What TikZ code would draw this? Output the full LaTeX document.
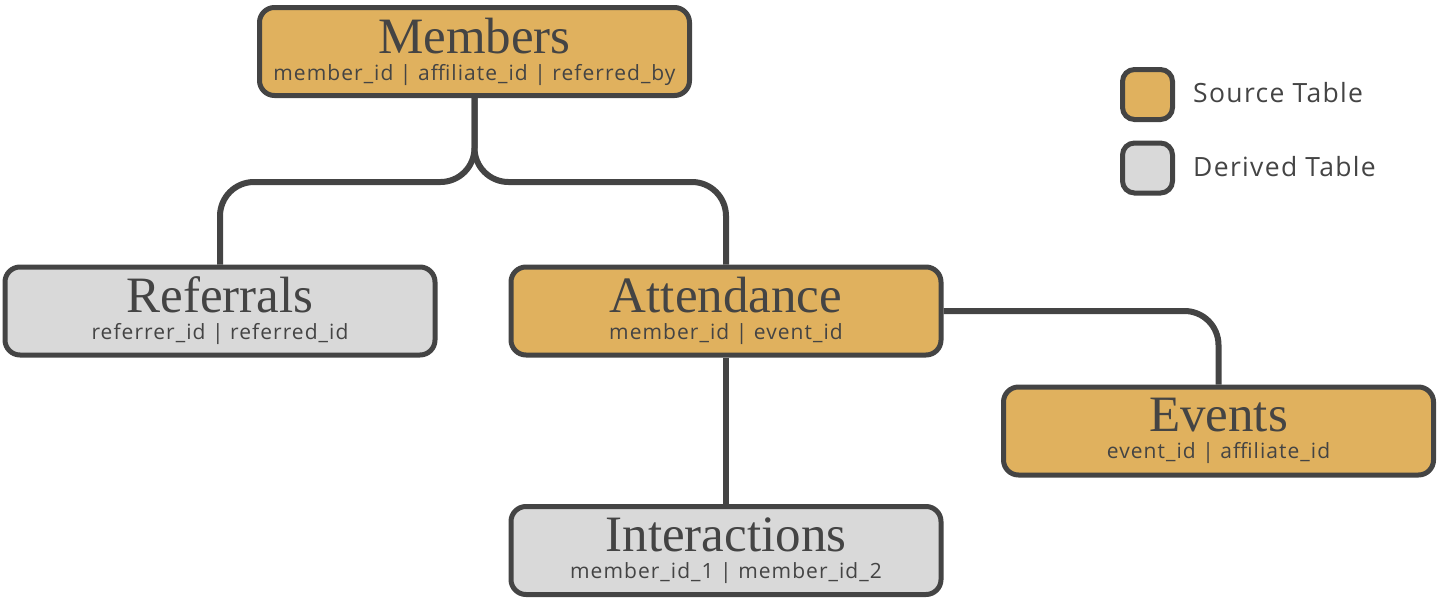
\documentclass[tikz,border=0pt]{standalone}
\usepackage{fontspec}
\setmainfont{Liberation Serif}
\newfontfamily\fieldfamily[LetterSpace=5]{Open Sans}
\definecolor{ink}{HTML}{444444}
\definecolor{srcfill}{HTML}{E0B15E}
\definecolor{drvfill}{HTML}{D9D9D9}
\newcommand{\tabletitle}{\rmfamily\fontsize{51}{27}\selectfont}
\newcommand{\tablefields}{\fieldfamily\fontsize{21}{27}\selectfont}
\tikzset{
  table/.style={draw=ink,line width=5pt,rounded corners=15pt,text=ink,
    minimum width=430pt,minimum height=88pt,align=center,inner sep=0pt,
    font=\tablefields},
  srctable/.style={table,fill=srcfill},
  drvtable/.style={table,fill=drvfill},
  keybox/.style={draw=ink,line width=5pt,rounded corners=12pt,
    minimum width=50pt,minimum height=50pt,inner sep=0pt},
  keytext/.style={anchor=west,text=ink,inner sep=0pt,
    font=\fieldfamily\fontsize{26.5}{28}\selectfont},
  link/.style={draw=ink,line width=6pt,rounded corners=34pt}
}
\begin{document}
\begin{tikzpicture}[x=1pt,y=-1pt]
\useasboundingbox (0,0) rectangle (1440,600);

  \node[srctable] (members) at (474.5,51.5)
    {{\tabletitle Members}\\member\_id | affiliate\_id | referred\_by};
  \node[drvtable] (referrals) at (220,311)
    {{\tabletitle Referrals}\\referrer\_id | referred\_id};
  \node[srctable] (attendance) at (726,311)
    {{\tabletitle Attendance}\\member\_id | event\_id};
  \node[srctable] (events) at (1218.5,431)
    {{\tabletitle Events}\\event\_id | affiliate\_id};
  \node[drvtable] (interactions) at (726,550.5)
    {{\tabletitle Interactions}\\member\_id\_1 | member\_id\_2};

  \coordinate (fork) at (474.5,182);
  \draw[link] (members.south) -- (fork) -| (referrals.north);
  \draw[link] (members.south) -- (fork) -| (attendance.north);
  \draw[link] (attendance.east) -| (events.north);
  \draw[link] (attendance.south) -- (interactions.north);

  % legend
  \node[keybox,fill=srcfill] (srckey) at (1147.5,94.5) {};
  \node[keybox,fill=drvfill] (drvkey) at (1147.5,168) {};
  \node[keytext] (srclabel) at (1193,93) {Source Table};
  \node[keytext] (drvlabel) at (1193,167) {Derived Table};
\end{tikzpicture}
\end{document}
